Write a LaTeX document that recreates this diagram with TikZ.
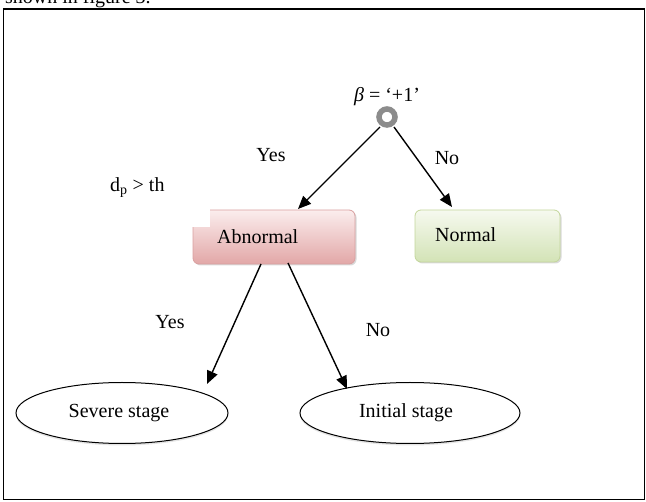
\documentclass[tikz,border=0pt]{standalone}
\usepackage{fontspec}
\setmainfont{Liberation Serif}
\usetikzlibrary{arrows.meta,shapes.geometric,shadows}
\definecolor{abtop}{HTML}{FBEDED}
\definecolor{abbot}{HTML}{E2A7A7}
\definecolor{abdraw}{HTML}{D9A0A0}
\definecolor{notop}{HTML}{F6F9EF}
\definecolor{nobot}{HTML}{D3E3B6}
\definecolor{nodraw}{HTML}{C3D69B}
\tikzset{
  txt/.style={font=\fontsize{20}{24}\selectfont, inner sep=0pt},
  arr/.style={line width=1.4pt, -{Triangle[length=13pt,width=11pt]}},
  ellbox/.style={ellipse, draw, line width=1pt, minimum width=#1, minimum height=61pt, inner sep=0pt,
    drop shadow={shadow xshift=0pt, shadow yshift=-2pt, opacity=0.25, fill=black!40}},
  abbox/.style={rounded corners=6pt, draw=abdraw, line width=0.8pt, top color=abtop, bottom color=abbot},
  nobox/.style={rounded corners=6pt, draw=nodraw, line width=0.8pt, top color=notop, bottom color=nobot},
}
\begin{document}
\begin{tikzpicture}[x=1pt,y=-1pt]
\useasboundingbox (0,0) rectangle (646,502);
\clip (0,0) rectangle (646,502);
% clipped caption line above the frame
\node[txt, anchor=base west] (cap) at (5,4) {shown in figure 3.};
% frame
\draw[line width=1.6pt] (3.5,8.8) rectangle (644.5,499.5);
% boxes
\draw[abbox, drop shadow={shadow xshift=1.5pt, shadow yshift=-1.5pt, opacity=0.3}] (193,210) rectangle (355,264);
\node[txt, anchor=west] (abt) at (217,237) {Abnormal};
\draw[nobox, drop shadow={shadow xshift=1.5pt, shadow yshift=-1.5pt, opacity=0.3}] (415,210) rectangle (560,262);
\node[txt, anchor=west] (not) at (435,235) {Normal};
% white label area that hides the Abnormal corner
\fill[white] (100,160) rectangle (210,227);
\node[txt, anchor=west] (dp) at (110,188) {d\textsubscript{p} > th};
% root
\node[txt] (beta) at (387,97) {{\itshape β} = ‘+1’};
\node[circle, draw=black!45, line width=5.5pt, minimum size=16pt, inner sep=0pt] (root) at (387,117) {};
% ellipses
\node[ellbox=212pt, fill=white] (sev) at (122,413) {};
\node[txt] (sevt) at (119,413) {Severe stage};
\node[ellbox=220pt, fill=white] (ini) at (410,413) {};
\node[txt] (init) at (406,413) {Initial stage};
% connector end points
\coordinate (r1) at (380,127);
\coordinate (r2) at (394,127);
\coordinate (abin) at (298,209);
\coordinate (noin) at (452,207);
\coordinate (a1) at (261,264);
\coordinate (a2) at (288,263);
\coordinate (sevin) at (207,384);
\coordinate (iniin) at (347,389);
\draw[arr] (r1) -- (abin);
\draw[arr] (r2) -- (noin);
\draw[arr] (a1) -- (sevin);
\draw[arr] (a2) -- (iniin);
% labels
\node[txt] (y1) at (271,155) {Yes};
\node[txt] (n1) at (447,158) {No};
\node[txt] (y2) at (170,322) {Yes};
\node[txt] (n2) at (378,330) {No};
\end{tikzpicture}
\end{document}
